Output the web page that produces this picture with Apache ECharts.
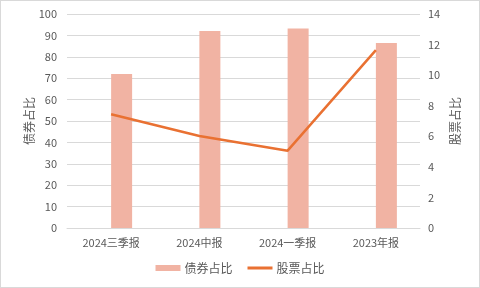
<!DOCTYPE html>
<html><head><meta charset="utf-8">
<script src="https://cdn.jsdelivr.net/npm/echarts@6/dist/echarts.min.js"></script>
<style>html,body{margin:0;padding:0;background:#fff}#c{width:478px;height:286px;border:1px solid #d9d9d9}</style>
</head><body><div id="c"></div>
<script>
const categories = ['2024三季报','2024中报','2024一季报','2023年报'];
const bondShare = [72.0, 92.1, 93.2, 86.5];
const stockShare = [7.44, 6.02, 5.06, 11.64];
const leftTicks = {min:0, max:100, interval:10};
const rightTicks = {min:0, max:14, interval:2};
const font = '"Noto Sans CJK SC", sans-serif';
const txt = '#595959';
const chart = echarts.init(document.getElementById('c'));
chart.setOption({
  animation:false,
  textStyle:{fontFamily:font},
  grid:{left:66, right:59, top:13, bottom:59},
  legend:{bottom:8, left:'center', itemGap:15, itemWidth:25, itemHeight:6,
    textStyle:{color:txt, fontSize:12, fontFamily:font, padding:[0,0,0,-1]},
    data:[{name:'债券占比', icon:'rect'},
          {name:'股票占比', icon:'path://M0,0h0.01v0.01h-0.01zM0,1.6h25v2.8h-25zM0,5.99h0.01v0.01h-0.01z'}]},
  xAxis:{type:'category', data:categories,
    axisLine:{lineStyle:{color:'#d9d9d9'}}, axisTick:{show:false},
    axisLabel:{color:txt, fontSize:11, margin:9, fontFamily:font}},
  yAxis:[
    {type:'value', min:leftTicks.min, max:leftTicks.max, interval:leftTicks.interval,
     name:'债券占比', nameLocation:'middle', nameGap:32, nameMoveOverlap:false,
     nameTextStyle:{color:txt, fontSize:12, fontFamily:font},
     axisLabel:{color:txt, fontSize:11, margin:10},
     axisLine:{show:false}, axisTick:{show:false},
     splitLine:{lineStyle:{color:'#d9d9d9'}}},
    {type:'value', min:rightTicks.min, max:rightTicks.max, interval:rightTicks.interval,
     name:'股票占比', nameLocation:'middle', nameGap:29, nameMoveOverlap:false,
     nameTextStyle:{color:txt, fontSize:12, fontFamily:font},
     axisLabel:{color:txt, fontSize:11, margin:8},
     axisLine:{show:false}, axisTick:{show:false}, splitLine:{show:false}}
  ],
  series:[
    {name:'_gap', type:'bar', data:categories.map(() => null), barWidth:21, barGap:'0%'},
    {name:'债券占比', type:'bar', data:bondShare, barWidth:21, barGap:'0%', itemStyle:{color:'#F1B3A3'}},
    {name:'股票占比', type:'line', yAxisIndex:1, data:stockShare, symbol:'none',
     lineStyle:{color:'#E97132', width:2.5}, itemStyle:{color:'#E97132'}}
  ]
});
</script></body></html>
